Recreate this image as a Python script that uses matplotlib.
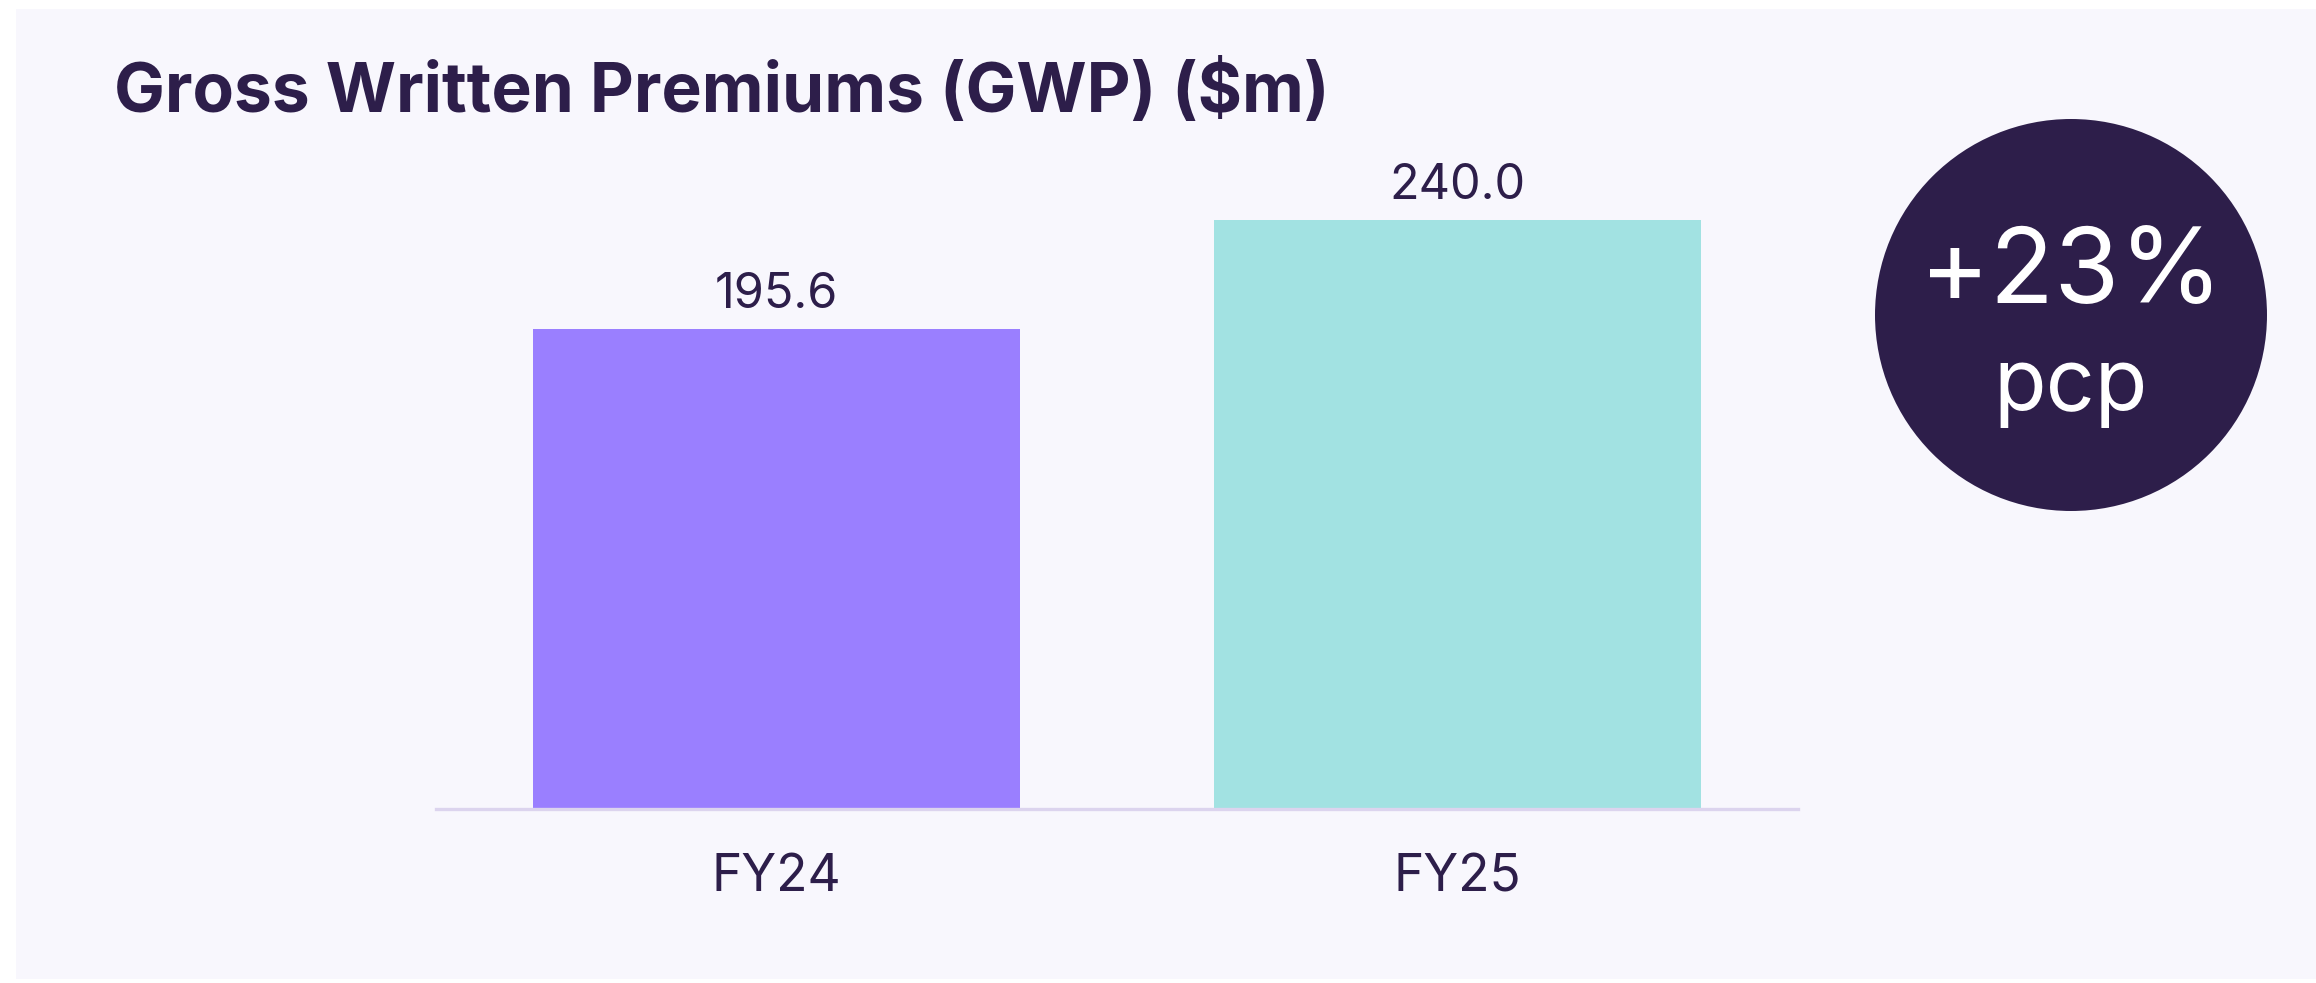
import matplotlib
matplotlib.use('Agg')
import matplotlib.pyplot as plt
from matplotlib.patches import Rectangle, Circle

plt.rcParams['font.family'] = ['Inter', 'DejaVu Sans']

# data
years = ['FY24', 'FY25']
gwp = [195.6, 240.0]
bar_colors = ['#9A7FFF', '#A2E2E2']
title = 'Gross Written Premiums (GWP) ($m)'

DARK = '#2D1E4A'
BG = '#F8F7FD'
W, H = 2316, 983

fig = plt.figure(figsize=(W / 200, H / 200), dpi=200, facecolor='white')

# light panel behind everything
fig.patches.append(Rectangle((16 / W, 4 / H), 1 - 16 / W, (H - 13) / H,
                             transform=fig.transFigure, facecolor=BG,
                             edgecolor='none', zorder=-10))

# main bar axes (pixel layout)
ax = fig.add_axes([436 / W, (H - 809) / H, (1798 - 436) / W, (809 - 73) / H])
ax.set_facecolor('none')
bars = ax.bar(range(len(years)), gwp, width=0.714, color=bar_colors, zorder=2)
ax.set_xlim(-0.5, 1.5)
ax.set_ylim(0, 300)
ax.bar_label(bars, labels=[f'{v:.1f}' for v in gwp], padding=4,
             fontsize=17.5, color=DARK)
ax.set_xticks(range(len(years)))
ax.set_xticklabels(years, fontsize=18.5, color=DARK)
ax.tick_params(axis='x', length=0, pad=16)
ax.set_yticks([])
for s in ['top', 'right', 'left']:
    ax.spines[s].set_visible(False)
ax.spines['bottom'].set_color('#DCD4EE')
ax.spines['bottom'].set_linewidth(1.2)

fig.text(114 / W, 1 - 112 / H, title, fontsize=24.4, fontweight='bold',
         color=DARK, va='baseline', ha='left')

# growth badge
growth = (gwp[1] / gwp[0] - 1) * 100
cax = fig.add_axes([1875 / W, (H - 511) / H, 392 / W, 392 / H])
cax.set_xlim(-1, 1)
cax.set_ylim(-1, 1)
cax.axis('off')
cax.add_patch(Circle((0, 0), 1, facecolor=DARK, edgecolor='none'))
cax.text(0, 0.2, f'+{growth:.0f}%', fontsize=38, fontweight='normal',
         color='white', ha='center', va='center')
cax.text(0, -0.37, 'pcp', fontsize=31, fontweight='normal',
         color='white', ha='center', va='center')

fig.savefig('out.png', dpi=200, facecolor='white')
